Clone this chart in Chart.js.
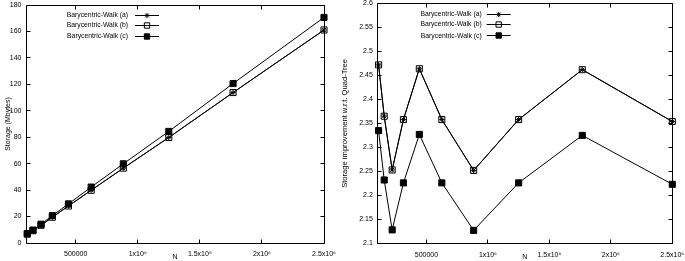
<!DOCTYPE html>
<html><head><meta charset="utf-8">
<script src="https://cdn.jsdelivr.net/npm/chart.js@4/dist/chart.umd.min.js"></script>
<style>
html,body{margin:0;padding:0;background:#fff;width:685px;height:261px;overflow:hidden;}
#l{position:absolute;left:0;top:0;}
#r{position:absolute;left:340px;top:0;}
</style></head><body>
<canvas id="l" width="340" height="261"></canvas>
<canvas id="r" width="345" height="261"></canvas>
<script>
// ---------- data ----------
const N = [110485, 156250, 220971, 312500, 441942, 625000, 883883, 1250000, 1767767, 2500000];
const seriesNames = ['Barycentric-Walk (a)', 'Barycentric-Walk (b)', 'Barycentric-Walk (c)'];

const storageA = [6.7, 9.3, 13.4, 19.5, 28.0, 39.9, 56.6, 79.8, 113.8, 161.1];
const storageB = [6.7, 9.3, 13.4, 19.5, 28.0, 39.9, 56.6, 79.8, 113.8, 161.1];
const storageC = [7.1, 9.8, 14.2, 20.7, 29.6, 42.3, 59.9, 84.4, 120.6, 170.6];

const improvA = [2.472, 2.365, 2.253, 2.358, 2.464, 2.358, 2.252, 2.358, 2.462, 2.354];
const improvB = [2.472, 2.365, 2.253, 2.358, 2.464, 2.358, 2.252, 2.358, 2.462, 2.354];
const improvC = [2.335, 2.232, 2.128, 2.226, 2.327, 2.226, 2.127, 2.226, 2.325, 2.223];

const xTickValues = [500000, 1000000, 1500000, 2000000, 2500000];
const xTickLabels = ['500000', '1x10\u2076', '1.5x10\u2076', '2x10\u2076', '2.5x10\u2076'];
const storageTicks = [0, 20, 40, 60, 80, 100, 120, 140, 160, 180];
const storageTickLabels = ['0', '20', '40', '60', '80', '100', '120', '140', '160', '180'];
const improvTicks = [2.1, 2.15, 2.2, 2.25, 2.3, 2.35, 2.4, 2.45, 2.5, 2.55, 2.6];
const improvTickLabels = ['2.1', '2.15', '2.2', '2.25', '2.3', '2.35', '2.4', '2.45', '2.5', '2.55', '2.6'];

// ---------- helpers ----------
const FONT = 'Liberation Sans, Arial, Helvetica, sans-serif';
const snap = v => Math.round(v - 0.5) + 0.5;

const framePlugin = {
  id: 'gpFrame',
  beforeDatasetsDraw(chart) {
    const {ctx, chartArea: a, scales} = chart;
    const L = snap(a.left), R = snap(a.right), T = snap(a.top), B = snap(a.bottom);
    const tl = 4;
    ctx.save();
    ctx.strokeStyle = '#000';
    ctx.lineWidth = 1;
    ctx.beginPath();
    ctx.rect(L, T, R - L, B - T);
    scales.x.ticks.forEach(t => {
      const px = snap(scales.x.getPixelForValue(t.value));
      ctx.moveTo(px, B); ctx.lineTo(px, B - tl);
      ctx.moveTo(px, T); ctx.lineTo(px, T + tl);
    });
    scales.y.ticks.forEach(t => {
      const py = snap(scales.y.getPixelForValue(t.value));
      ctx.moveTo(L, py); ctx.lineTo(L + tl, py);
      ctx.moveTo(R, py); ctx.lineTo(R - tl, py);
    });
    ctx.stroke();
    ctx.restore();
  }
};

const legendPlugin = {
  id: 'gpLegend',
  afterDatasetsDraw(chart, args, opts) {
    const {ctx} = chart;
    ctx.save();
    ctx.font = opts.fontSize + 'px ' + FONT;
    ctx.textAlign = 'right';
    ctx.textBaseline = 'middle';
    chart.data.datasets.forEach((ds, i) => {
      const y = opts.rows[i];
      ctx.fillStyle = '#000';
      ctx.fillText(ds.label, opts.textRight, y);
      ctx.strokeStyle = '#000';
      ctx.lineWidth = 1;
      ctx.beginPath();
      ctx.moveTo(opts.x1, snap(y)); ctx.lineTo(opts.x2, snap(y));
      ctx.stroke();
      ctx.fillStyle = ds.pointBackgroundColor;
      ctx.strokeStyle = '#000';
      Chart.helpers.drawPoint(ctx, {
        pointStyle: ds.pointStyle, rotation: 0, radius: ds.legendRadius, borderWidth: 1
      }, (opts.x1 + opts.x2) / 2, snap(y));
    });
    ctx.restore();
  }
};

function makeDatasets(vals) {
  const styles = [
    {pointStyle: 'star', pointRadius: 2.6, legendRadius: 2.6, pointBackgroundColor: 'rgba(0,0,0,0)'},
    {pointStyle: 'rect', pointRadius: 4.3, legendRadius: 3.8, pointBackgroundColor: 'rgba(0,0,0,0)'},
    {pointStyle: 'rect', pointRadius: 4.3, legendRadius: 3.8, pointBackgroundColor: '#000'}
  ];
  return vals.map((v, i) => Object.assign({
    label: seriesNames[i],
    data: N.map((n, k) => ({x: n, y: v[k]})),
    showLine: true,
    borderColor: '#000',
    borderWidth: 1,
    pointBorderColor: '#000',
    pointBorderWidth: 1,
    pointHoverRadius: 0,
    backgroundColor: 'rgba(0,0,0,0)',
    tension: 0,
    clip: false
  }, styles[i]));
}

function makeChart(id, vals, yTicks, yLabels, yTitle, lay) {
  return new Chart(document.getElementById(id), {
    type: 'scatter',
    data: {datasets: makeDatasets(vals)},
    plugins: [framePlugin, legendPlugin],
    options: {
      responsive: false,
      animation: false,
      events: [],
      layout: {padding: lay.padding, autoPadding: false},
      plugins: {
        legend: {display: false},
        tooltip: {enabled: false},
        gpLegend: lay.legend
      },
      scales: {
        x: {
          type: 'linear',
          min: 100000, max: 2500000,
          afterBuildTicks: ax => { ax.ticks = xTickValues.map(v => ({value: v})); },
          afterFit: s => { s.height = lay.xHeight; s.paddingLeft = 0; s.paddingRight = 0; },
          grid: {display: false, drawTicks: false},
          border: {display: false},
          ticks: {
            autoSkip: false, maxRotation: 0, minRotation: 0,
            padding: 8, color: '#000',
            font: {family: FONT, size: 7, lineHeight: 1},
            callback: (v, i) => xTickLabels[i]
          },
          title: {
            display: true, text: 'N', color: '#000',
            font: {family: FONT, size: 7}, padding: {top: 0, bottom: -0.5}
          }
        },
        y: {
          type: 'linear',
          min: yTicks[0], max: yTicks[yTicks.length - 1],
          afterBuildTicks: ax => { ax.ticks = yTicks.map(v => ({value: v})); },
          afterFit: s => { s.width = lay.yWidth; s.paddingTop = 0; s.paddingBottom = 0; },
          grid: {display: false, drawTicks: false},
          border: {display: false},
          ticks: {
            autoSkip: false, padding: 4.5, color: '#000',
            font: {family: FONT, size: 7, lineHeight: 1},
            callback: (v, i) => yLabels[i]
          },
          title: {
            display: true, text: yTitle, color: '#000',
            font: {family: FONT, size: lay.yTitleSize}, padding: {top: lay.yTitlePad, bottom: 0}
          }
        }
      }
    }
  });
}

makeChart('l', [storageA, storageB, storageC], storageTicks, storageTickLabels, 'Storage (Mbytes)', {
  padding: {left: 0, top: 5, right: 16, bottom: 0},
  xHeight: 18, yWidth: 26, yTitlePad: 4, yTitleSize: 7,
  legend: {fontSize: 6.8, textRight: 128, x1: 135, x2: 159, rows: [15, 25.3, 36]}
});

makeChart('r', [improvA, improvB, improvC], improvTicks, improvTickLabels, 'Storage improvement w.r.t. Quad-Tree', {
  padding: {left: 0, top: 3.5, right: 12.7, bottom: 0},
  xHeight: 17.7, yWidth: 37.3, yTitlePad: 0, yTitleSize: 7.6,
  legend: {fontSize: 6.8, textRight: 141.7, x1: 146.7, x2: 170.7, rows: [14, 24, 35.7]}
});
</script>
</body></html>
